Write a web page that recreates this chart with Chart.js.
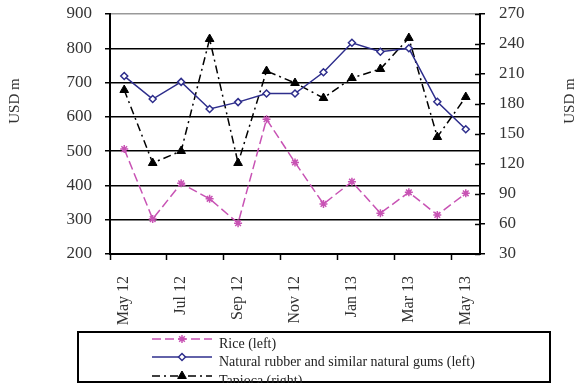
<!DOCTYPE html>
<html>
<head>
<meta charset="utf-8">
<script src="https://cdn.jsdelivr.net/npm/chart.js@4.4.0/dist/chart.umd.min.js"></script>
<style>
  html, body { margin: 0; padding: 0; background: #fff; }
</style>
</head>
<body>
<canvas id="exportsChart" width="575" height="383"></canvas>
<script>
var months = ['May 12', 'Jun 12', 'Jul 12', 'Aug 12', 'Sep 12', 'Oct 12', 'Nov 12', 'Dec 12', 'Jan 13', 'Feb 13', 'Mar 13', 'Apr 13', 'May 13']
var rice = [506, 302, 406, 361, 290, 593, 467, 346, 411, 319, 380, 314, 377]
var rubber = [719, 652, 702, 623, 643, 668, 668, 730, 816, 790, 800, 644, 564]
var tapioca = [194, 121, 133, 245, 121, 213, 201, 186, 206, 215, 246, 147, 187]
var seriesNames = ['Rice (left)', 'Natural rubber and similar natural gums (left)', 'Tapioca (right)']
var axisTitle = 'USD m'

Chart.defaults.font.family = '"Liberation Serif", "Times New Roman", serif'
Chart.defaults.color = '#333'

// fixed axis box sizes so the plot area lands where the original has it
function fixWidth(w) {
  return function (scale) {
    scale.width = w
    scale.paddingTop = 0
    scale.paddingBottom = 0
  }
}

// axis titles (both read bottom-to-top), inner ticks on right axis, boxed legend
var extras = {
  id: 'extras',
  afterDraw: function (chart) {
    var ctx = chart.ctx
    var area = chart.chartArea
    var y1 = chart.scales.y1
    ctx.save()

    ctx.strokeStyle = '#000'
    ctx.lineWidth = 1.5
    y1.ticks.forEach(function (t) {
      var py = Math.round(y1.getPixelForValue(t.value)) + 0.5
      ctx.beginPath()
      ctx.moveTo(area.right - 5, py)
      ctx.lineTo(area.right, py)
      ctx.stroke()
    })

    ctx.fillStyle = '#333'
    ctx.font = '15px "Liberation Serif"'
    ctx.textAlign = 'center'
    ctx.textBaseline = 'middle'
    var titlePos = [[15, 101], [570, 101]]
    titlePos.forEach(function (p) {
      ctx.save()
      ctx.translate(p[0], p[1])
      ctx.rotate(-Math.PI / 2)
      ctx.fillText(axisTitle, 0, 0)
      ctx.restore()
    })

    // legend box
    ctx.strokeStyle = '#000'
    ctx.lineWidth = 2
    ctx.strokeRect(78, 332, 472, 50)
    var rows = [339, 357, 376]
    ctx.font = '14px "Liberation Serif"'
    ctx.textAlign = 'left'
    chart.data.datasets.forEach(function (ds, i) {
      var ly = rows[i]
      ctx.save()
      ctx.strokeStyle = ds.borderColor
      ctx.lineWidth = ds.borderWidth
      ctx.setLineDash(ds.borderDash || [])
      ctx.beginPath()
      ctx.moveTo(152, ly)
      ctx.lineTo(212, ly)
      ctx.stroke()
      ctx.setLineDash([])
      ctx.fillStyle = ds.pointBackgroundColor
      ctx.strokeStyle = ds.pointBorderColor
      ctx.lineWidth = ds.pointBorderWidth
      Chart.helpers.drawPoint(ctx, { pointStyle: ds.pointStyle, radius: ds.pointRadius, borderWidth: ds.pointBorderWidth, rotation: 0 }, 182, ly)
      ctx.restore()
      ctx.fillStyle = '#222'
      ctx.fillText(ds.label, 219, ly + 5)
    })
    ctx.restore()
  }
}

new Chart(document.getElementById('exportsChart'), {
  type: 'line',
  data: {
    labels: months,
    datasets: [
      {
        label: seriesNames[0],
        data: rice,
        yAxisID: 'y',
        borderColor: '#C853B4',
        borderWidth: 1.5,
        borderDash: [9, 4],
        pointStyle: 'star',
        pointRadius: 4,
        pointBorderWidth: 1.5,
        pointBorderColor: '#C853B4',
        pointBackgroundColor: '#C853B4'
      },
      {
        label: seriesNames[1],
        data: rubber,
        yAxisID: 'y',
        borderColor: '#2E2E8C',
        borderWidth: 1.5,
        pointStyle: 'rectRot',
        pointRadius: 3.5,
        pointBorderWidth: 1.5,
        pointBorderColor: '#2E2E8C',
        pointBackgroundColor: '#fff'
      },
      {
        label: seriesNames[2],
        data: tapioca,
        yAxisID: 'y1',
        borderColor: '#000',
        borderWidth: 1.5,
        borderDash: [8, 4, 2, 4],
        pointStyle: 'triangle',
        pointRadius: 5,
        pointBorderWidth: 1,
        pointBorderColor: '#000',
        pointBackgroundColor: '#000'
      }
    ]
  },
  options: {
    responsive: false,
    animation: false,
    events: [],
    layout: { padding: { top: 14, bottom: 51, left: 0, right: 0 } },
    plugins: {
      legend: { display: false },
      tooltip: { enabled: false }
    },
    elements: { line: { tension: 0 } },
    scales: {
      x: {
        offset: true,
        afterFit: function (scale) { scale.height = 78 },
        border: { color: '#000', width: 2 },
        grid: {
          offset: true,
          drawOnChartArea: false,
          tickLength: 6,
          tickWidth: 1.5,
          tickColor: function (c) { return c.index % 2 === 0 ? '#000' : 'rgba(0,0,0,0)' }
        },
        ticks: {
          autoSkip: false,
          maxRotation: 90,
          minRotation: 90,
          padding: 16,
          font: { size: 16 },
          callback: function (value, index) { return index % 2 === 0 ? this.getLabelForValue(value) : '' }
        }
      },
      y: {
        position: 'left',
        min: 200,
        max: 900,
        afterFit: fixWidth(110),
        border: { color: '#000', width: 2 },
        grid: {
          color: function (c) { return c.tick && c.tick.value === 900 ? '#999' : '#000' },
          lineWidth: 1.5,
          tickLength: 5,
          tickColor: '#000'
        },
        ticks: { stepSize: 100, padding: 13, font: { size: 17 } }
      },
      y1: {
        position: 'right',
        min: 30,
        max: 270,
        afterFit: fixWidth(95),
        border: { color: '#000', width: 2 },
        grid: { drawOnChartArea: false, tickLength: 5, tickColor: '#000', lineWidth: 1.5 },
        ticks: { stepSize: 30, padding: 14, font: { size: 17 } }
      }
    }
  },
  plugins: [extras]
})
</script>
</body>
</html>
